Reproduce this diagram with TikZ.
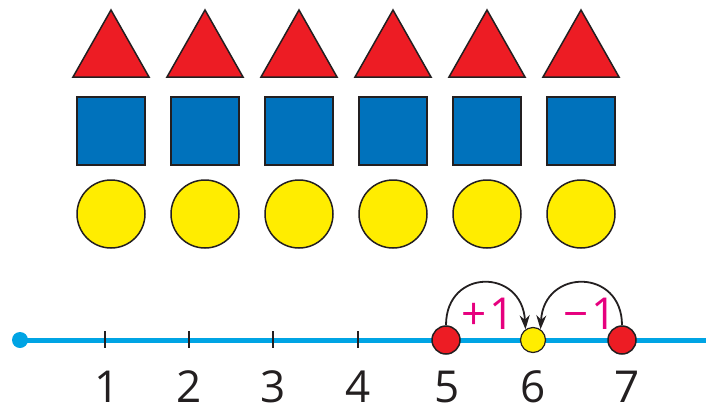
\documentclass[tikz,border=0pt]{standalone}
\usepackage{fontspec}
\setmainfont{Open Sans}
\usetikzlibrary{arrows.meta}
\definecolor{tri}{RGB}{237,28,36}
\definecolor{sq}{RGB}{0,114,188}
\definecolor{yel}{RGB}{255,237,0}
\definecolor{nl}{RGB}{0,164,228}
\definecolor{mag}{RGB}{230,0,126}
\definecolor{outl}{RGB}{35,31,32}
\tikzset{
  shp/.style={draw=outl, line width=1.5pt, line join=miter},
  digit/.style={font=\fontsize{44}{44}\selectfont, text=outl, inner sep=0pt, anchor=base},
  sign/.style={font=\fontsize{44}{44}\selectfont, text=mag, inner sep=0pt, anchor=base},
  dotr/.style={circle, fill=tri, draw=outl, line width=1.5pt, minimum size=28pt, inner sep=0pt},
  doty/.style={circle, fill=yel, draw=outl, line width=1.2pt, minimum size=25pt, inner sep=0pt},
  jump/.style={draw=outl, line width=1.8pt, -{Stealth[length=14pt,width=10pt]}},
  tick/.style={draw=outl, line width=2pt}
}
\begin{document}
\begin{tikzpicture}[x=1pt,y=-1pt]
\useasboundingbox (0,0) rectangle (706,407);
% rows of shapes
\foreach \i in {0,...,5}{
  \pgfmathsetmacro{\cx}{111+94*\i}
  \filldraw[shp, fill=tri] (\cx-38,77) -- (\cx,10) -- (\cx+38,77) -- cycle;
  \filldraw[shp, fill=sq] (\cx-34,97) rectangle (\cx+34,165);
  \filldraw[shp, fill=yel] (\cx,214) ellipse [x radius=34, y radius=34];
}
% number line
\coordinate (start) at (20,340);
\coordinate (end) at (706,340);
\draw[nl, line width=5pt] (start) -- (end);
\fill[nl] (start) circle (8);
\foreach \x in {105,189,273,358}{
  \draw[tick] (\x,331) -- (\x,348);
}
\node[digit] (n1) at (107,402) {1};
\node[digit] (n2) at (189,402) {2};
\node[digit] (n3) at (273,402) {3};
\node[digit] (n4) at (358,402) {4};
\node[digit] (n5) at (447,402) {5};
\node[digit] (n6) at (533,402) {6};
\node[digit] (n7) at (627,402) {7};
\node[dotr] (r5) at (446,340) {};
\node[dotr] (r7) at (622,340) {};
\node[doty] (y6) at (533,340) {};
\node[sign] (plus) at (488,329) {+\kern3pt1};
\node[sign] (minus) at (590,329) {−\kern3pt1};
\draw[jump] (r5.north) .. controls (446,268) and (522,268) .. (y6.125);
\draw[jump] (r7.north) .. controls (622,268) and (544,268) .. (y6.55);
\end{tikzpicture}
\end{document}
